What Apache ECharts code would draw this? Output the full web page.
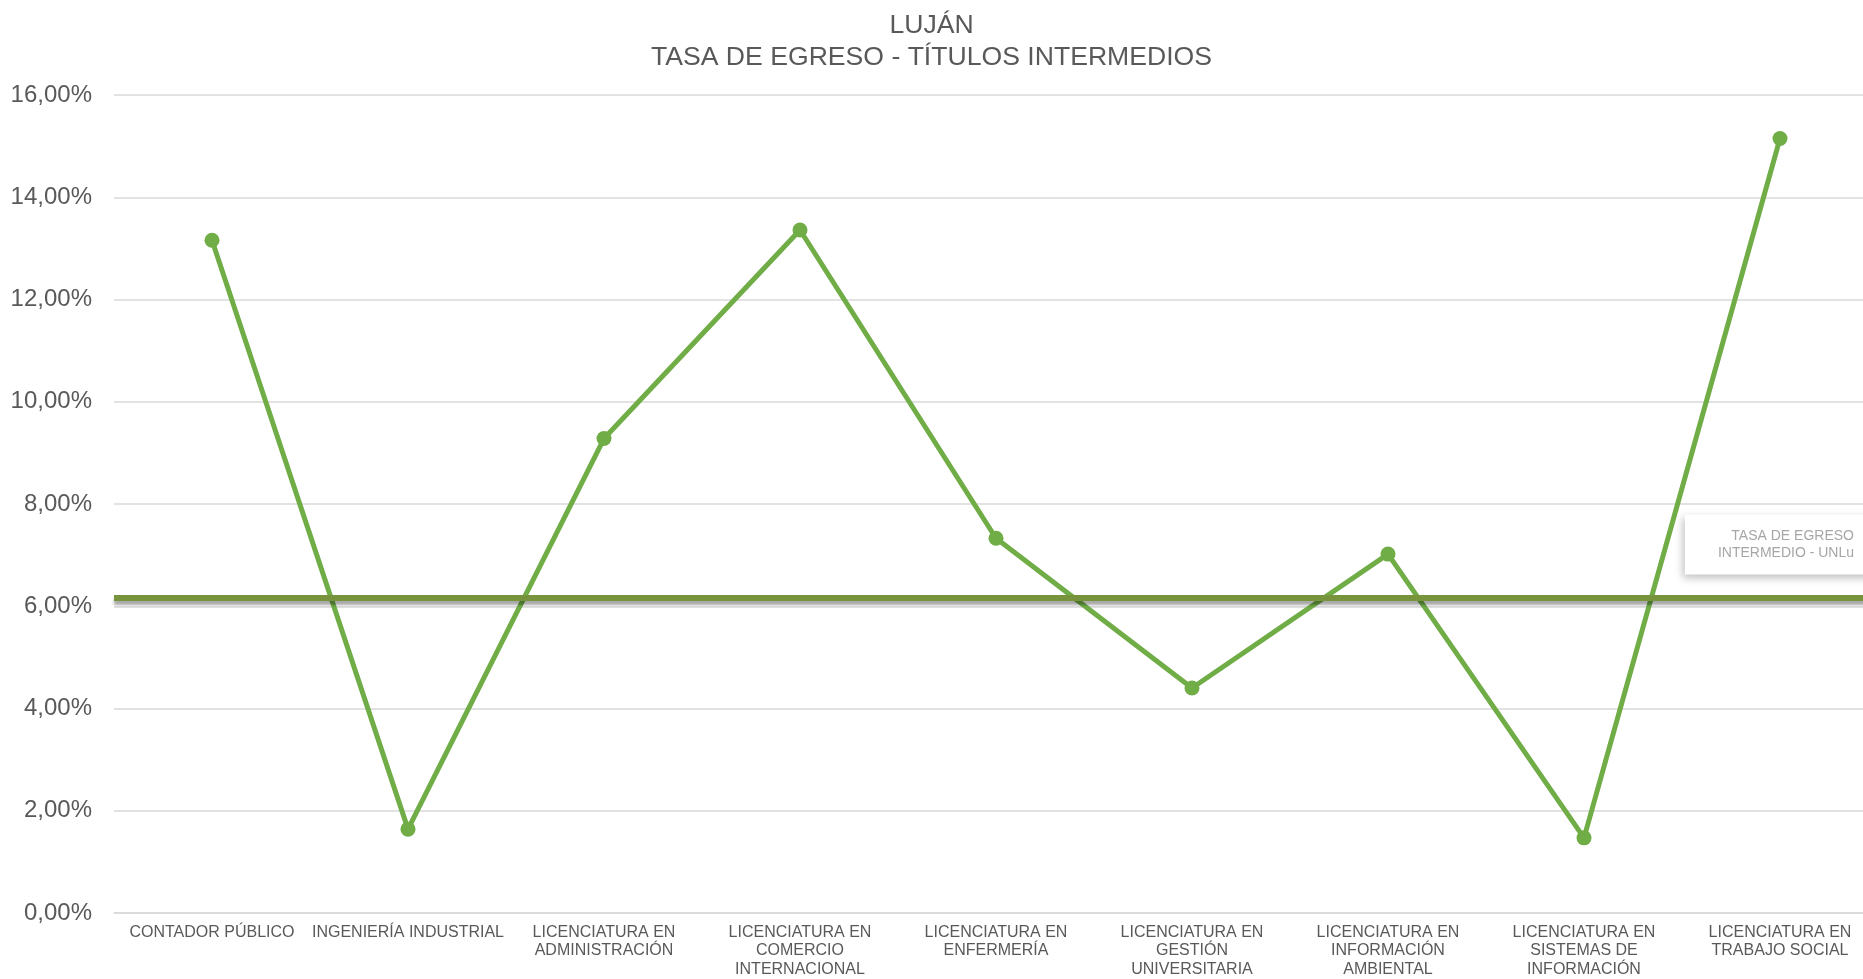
<!DOCTYPE html>
<html>
<head>
<meta charset="utf-8">
<script src="https://cdn.jsdelivr.net/npm/echarts@6/dist/echarts.min.js"></script>
<style>
html,body{margin:0;padding:0;background:#ffffff;}
#chart{width:1863px;height:979px;}
</style>
</head>
<body>
<div id="chart"></div>
<script>
const titleLines = ['LUJÁN', 'TASA DE EGRESO - TÍTULOS INTERMEDIOS'];
const categories = [
  'CONTADOR PÚBLICO',
  'INGENIERÍA INDUSTRIAL',
  'LICENCIATURA EN ADMINISTRACIÓN',
  'LICENCIATURA EN COMERCIO INTERNACIONAL',
  'LICENCIATURA EN ENFERMERÍA',
  'LICENCIATURA EN GESTIÓN UNIVERSITARIA',
  'LICENCIATURA EN INFORMACIÓN AMBIENTAL',
  'LICENCIATURA EN SISTEMAS DE INFORMACIÓN',
  'LICENCIATURA EN TRABAJO SOCIAL'
];
const tasaEgreso = [13.16, 1.64, 9.28, 13.36, 7.33, 4.40, 7.02, 1.47, 15.15];
const promedioUNLu = 6.17;
const promedioLabel = 'TASA DE EGRESO\nINTERMEDIO - UNLu';
const yTicks = { min: 0, max: 16, interval: 2 };

const FONT = '"Liberation Sans", Arial, sans-serif';
const measureCtx = document.createElement('canvas').getContext('2d');
measureCtx.font = '16px ' + FONT;
function wrapLabel(text, maxW) {
  const words = text.split(' ');
  const lines = [];
  let cur = '';
  words.forEach(w => {
    const test = cur ? cur + ' ' + w : w;
    if (cur && measureCtx.measureText(test).width > maxW) {
      lines.push(cur);
      cur = w;
    } else {
      cur = test;
    }
  });
  if (cur) lines.push(cur);
  return lines.join('\n');
}

const chart = echarts.init(document.getElementById('chart'));
chart.setOption({
  backgroundColor: '#ffffff',
  animation: false,
  title: {
    text: titleLines.join('\n'),
    left: 'center',
    top: 5,
    textStyle: { color: '#595959', fontSize: 26.6, fontWeight: 'normal', fontFamily: FONT, lineHeight: 32 }
  },
  grid: { left: 114, width: 1764, top: 95, bottom: 66, containLabel: false, outerBoundsMode: 'none' },
  xAxis: {
    type: 'category',
    data: categories,
    boundaryGap: true,
    axisLine: { lineStyle: { color: '#D9D9D9', width: 1.5 } },
    axisTick: { show: false },
    axisLabel: {
      interval: 0,
      color: '#595959',
      fontSize: 16,
      fontFamily: FONT,
      lineHeight: 18.5,
      margin: 10,
      hideOverlap: false,
      formatter: v => wrapLabel(v, 195)
    }
  },
  yAxis: {
    type: 'value',
    min: yTicks.min,
    max: yTicks.max,
    interval: yTicks.interval,
    axisLine: { show: false },
    axisTick: { show: false },
    splitLine: { lineStyle: { color: '#D9D9D9', width: 1.5 } },
    axisLabel: {
      color: '#595959',
      fontSize: 24,
      fontFamily: FONT,
      margin: 22,
      formatter: v => v.toFixed(2).replace('.', ',') + '%'
    }
  },
  series: [{
    type: 'line',
    data: tasaEgreso,
    symbol: 'circle',
    symbolSize: 15,
    lineStyle: { color: '#70AD47', width: 5 },
    itemStyle: { color: '#70AD47' },
    markLine: {
      silent: true,
      symbol: ['none', 'none'],
      data: [{ yAxis: promedioUNLu }],
      lineStyle: {
        color: '#77933C', width: 6, type: 'solid',
        shadowColor: 'rgba(0,0,0,0.35)', shadowBlur: 3, shadowOffsetY: 4
      },
      label: {
        show: true,
        position: 'insideEndTop',
        formatter: promedioLabel,
        color: '#A6A6A6',
        fontSize: 14,
        fontFamily: FONT,
        lineHeight: 17,
        distance: [0, 23],
        backgroundColor: '#ffffff',
        padding: [13, 24, 13, 33],
        shadowColor: 'rgba(0,0,0,0.25)',
        shadowBlur: 8,
        shadowOffsetX: -2,
        shadowOffsetY: 3
      }
    }
  }]
});
</script>
</body>
</html>
